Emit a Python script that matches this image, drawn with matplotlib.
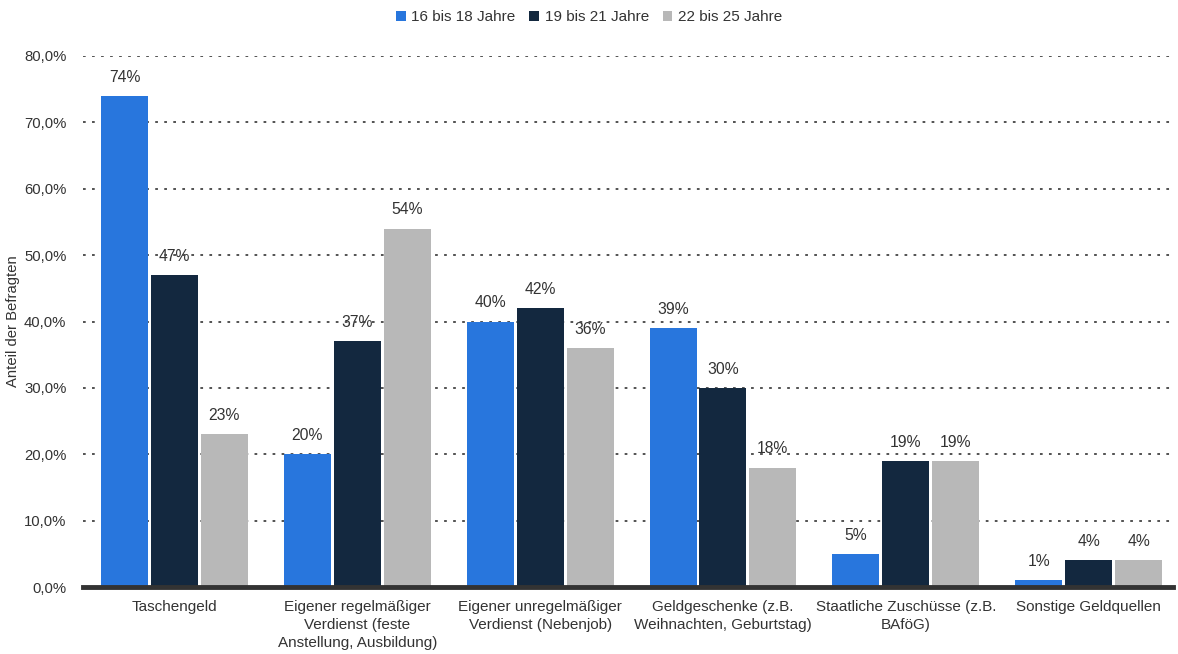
import matplotlib.pyplot as plt
import numpy as np

plt.rcParams["font.family"] = ["Liberation Sans", "DejaVu Sans"]

categories = [
    "Taschengeld",
    "Eigener regelmäßiger\nVerdienst (feste\nAnstellung, Ausbildung)",
    "Eigener unregelmäßiger\nVerdienst (Nebenjob)",
    "Geldgeschenke (z.B.\nWeihnachten, Geburtstag)",
    "Staatliche Zuschüsse (z.B.\nBAföG)",
    "Sonstige Geldquellen",
]
series_names = ["16 bis 18 Jahre", "19 bis 21 Jahre", "22 bis 25 Jahre"]
age_16_18 = [74, 20, 40, 39, 5, 1]
age_19_21 = [47, 37, 42, 30, 19, 4]
age_22_25 = [23, 54, 36, 18, 19, 4]
yticks = [0, 10, 20, 30, 40, 50, 60, 70, 80]

colors = ["#2876dd", "#13283f", "#b8b8b8"]
text_color = "#333333"

fig = plt.figure(figsize=(11.78, 6.54), dpi=100)
ax = fig.add_axes([0.0705, 0.1024, 0.925, 0.812])

x = np.arange(len(categories))
width = 0.257
step = 0.273
for i, (name, values) in enumerate(zip(series_names, [age_16_18, age_19_21, age_22_25])):
    pos = x + (i - 1) * step
    ax.bar(pos, values, width=width, color=colors[i], label=name, zorder=2)
    for px, v in zip(pos, values):
        ax.annotate(f"{v}%", (px, v), xytext=(0, 8), textcoords="offset points",
                    ha="center", va="bottom", fontsize=11.3, color=text_color, zorder=1)

ax.set_xlim(-0.5, 5.46)
ax.set_ylim(0, 80)
ax.set_yticks(yticks)
ax.set_yticklabels([f"{t},0%" for t in yticks], fontsize=10.7, color=text_color)
ax.set_xticks(x)
ax.set_xticklabels(categories, fontsize=11, color=text_color, linespacing=1.4)
ax.tick_params(axis="y", length=0, pad=12)
ax.tick_params(axis="x", length=0, pad=9)

ax.grid(axis="y", linestyle=(0, (1.5, 3.5)), color="#444444", linewidth=1.3, zorder=3)
for side in ["top", "right", "left"]:
    ax.spines[side].set_visible(False)
ax.spines["bottom"].set_color("#333333")
ax.spines["bottom"].set_linewidth(3.5)
ax.spines["bottom"].set_zorder(4)

ax.set_ylabel("Anteil der Befragten", fontsize=10.7, color=text_color)
ax.yaxis.set_label_coords(-0.0575, 0.5)

fig.legend(loc="upper center", bbox_to_anchor=(0.5, 1.005), ncol=3, frameon=False,
           fontsize=11, handlelength=0.65, handleheight=0.65, handletextpad=0.35,
           columnspacing=0.9, labelcolor=text_color)

fig.savefig("out.png", dpi=100)
